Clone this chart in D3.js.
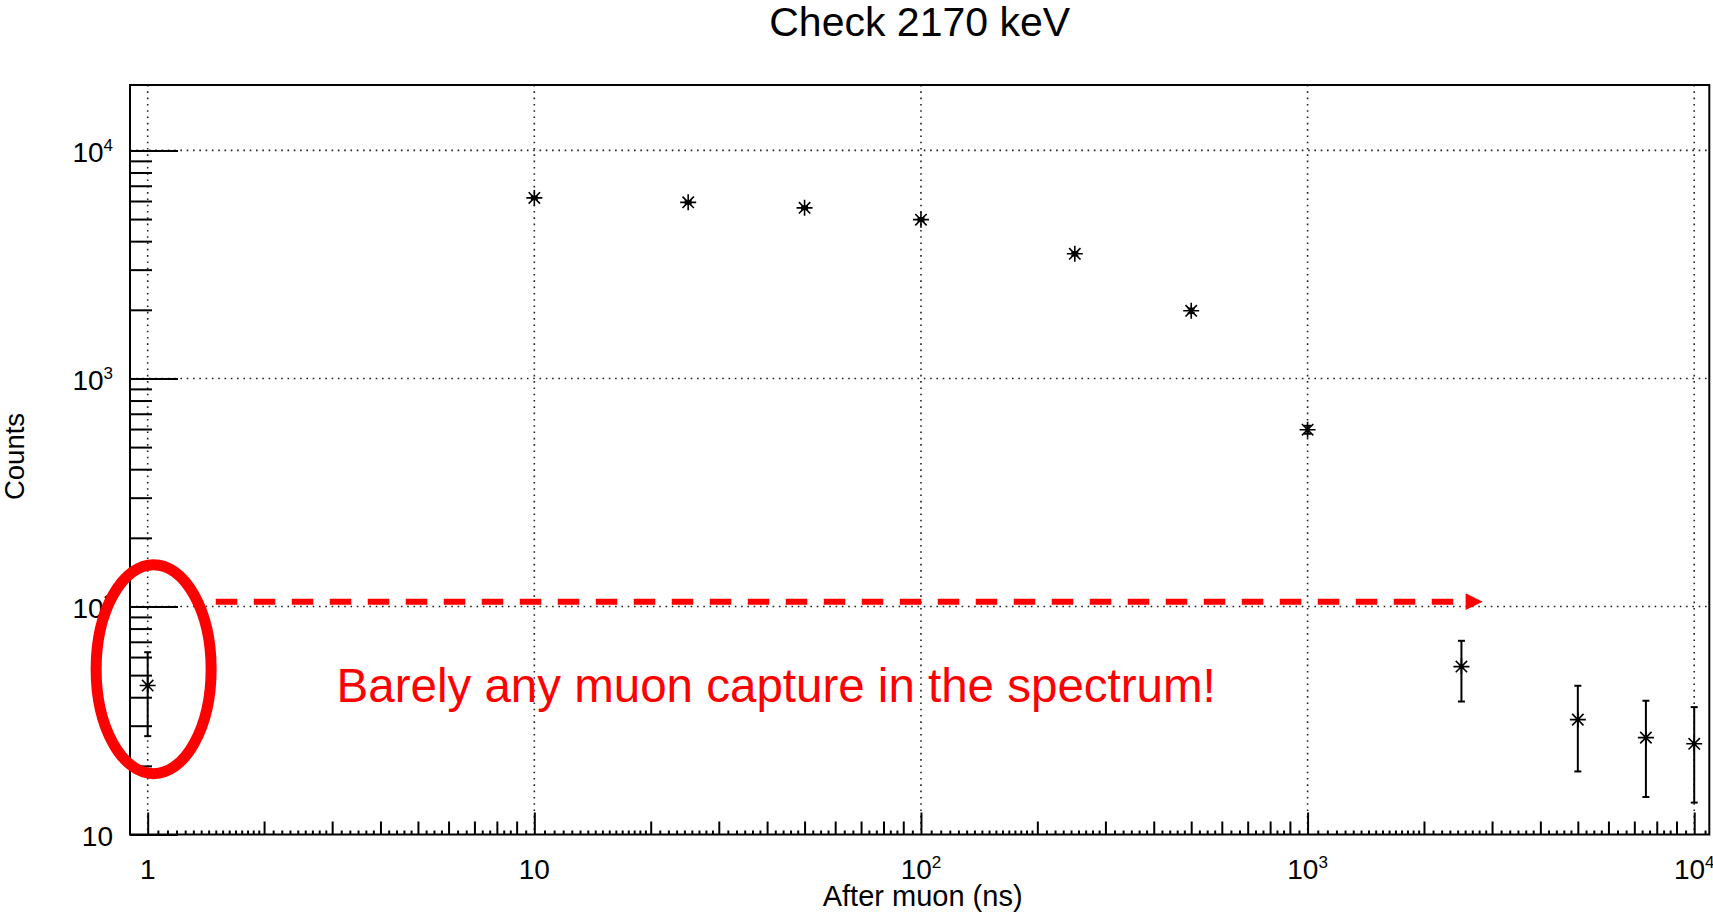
<!DOCTYPE html>
<html>
<head>
<meta charset="utf-8">
<script src="https://cdn.jsdelivr.net/npm/d3@7"></script>
<style>
    body { margin: 0; background: #fff; }
    svg text { font-family: "Liberation Sans", Arial, sans-serif; }
</style>
</head>
<body>
<div id="chart"></div>
<script>
// values
const afterMuon = [1, 10, 25, 50, 100, 250, 500, 1000, 2500, 5000, 7500, 10000];
const counts = [45, 6190, 5920, 5600, 4970, 3520, 1980, 596, 54.5, 31.9, 26.6, 25.0];
const countErrors = [18, 79, 77, 75, 70, 59, 45, 24, 16.2, 13, 12, 11.2];

const xDecades = [1, 10, 100, 1000, 10000];
const xDecadeLabels = [["1", ""], ["10", ""], ["10", "2"], ["10", "3"], ["10", "4"]];
const yDecades = [10, 100, 1000, 10000];
const yDecadeLabels = [["10", ""], ["10", "2"], ["10", "3"], ["10", "4"]];

const titleText = "Check 2170 keV";
const xTitle = "After muon (ns)";
const yTitle = "Counts";
const noteText = "Barely any muon capture in the spectrum!";

const config = {
    width: 1713,
    height: 914,
    margin: { left: 130, right: 3.7, top: 85, bottom: 79.5 },
    xDomain: [0.9, 10940],
    yDomain: [10, 19360]
};

class RootPlot {

    constructor(selectElement, config) {
        this.config = config;
        this.width = config.width - config.margin.left - config.margin.right;
        this.height = config.height - config.margin.top - config.margin.bottom;

        this.svg = d3.select(selectElement).append("svg")
            .attr("width", config.width)
            .attr("height", config.height);

        this.mainChart = this.svg.append("g")
            .attr("transform", "translate(" + config.margin.left + "," + config.margin.top + ")");

        this.x = d3.scaleLog().domain(config.xDomain).range([0, this.width]);
        this.y = d3.scaleLog().domain(config.yDomain).range([this.height, 0]);
    }

    draw() {
        this.createGrid();
        this.createXAxis();
        this.createYAxis();
        this.createFrame();
        this.createTitles();
        this.createPoints();
        this.createNote();
    }

    createGrid() {
        const grid = this.mainChart.append("g")
            .attr("stroke", "#222")
            .attr("stroke-width", 1.6)
            .attr("stroke-dasharray", "1.6,4.7");

        grid.selectAll(".vgrid")
            .data(xDecades)
            .enter()
            .append("line")
            .attr("x1", d => this.x(d))
            .attr("x2", d => this.x(d))
            .attr("y1", 0)
            .attr("y2", this.height);

        grid.selectAll(".hgrid")
            .data(yDecades.slice(1))
            .enter()
            .append("line")
            .attr("x1", 0)
            .attr("x2", this.width)
            .attr("y1", d => this.y(d))
            .attr("y2", d => this.y(d));
    }

    tickLayer(axis, values, size, transform) {
        const g = this.mainChart.append("g")
            .attr("transform", transform)
            .call(axis.tickValues(values).tickSize(size).tickSizeOuter(0).tickFormat(""));
        g.select(".domain").remove();
        g.selectAll(".tick line").attr("stroke", "#000").attr("stroke-width", 2);
        return g;
    }

    createXAxis() {
        const [lo, hi] = this.x.domain();
        const minor = [];
        const tiny = [];
        xDecades.slice(0, 4).forEach(d => {
            for (let k = 1; k <= 9; k++) {
                const a = k * d, b = (k + 1) * d;
                if (k > 1) minor.push(a);
                const n = Math.max(2, Math.round((this.x(b) - this.x(a)) / 7.5));
                for (let i = 1; i < n; i++) tiny.push(a + (b - a) * i / n);
            }
        });
        tiny.push(10000 + 10000 / 15);
        const inside = v => v >= lo && v <= hi;
        const bottom = "translate(0," + this.height + ")";

        this.tickLayer(d3.axisBottom(this.x), tiny.filter(inside), -4, bottom);
        this.tickLayer(d3.axisBottom(this.x), minor.filter(inside), -13, bottom);
        this.tickLayer(d3.axisBottom(this.x), xDecades, -22, bottom);

        const labels = this.mainChart.selectAll(".xlabel")
            .data(xDecades)
            .enter()
            .append("text")
            .attr("x", d => this.x(d))
            .attr("y", this.height + 44)
            .attr("text-anchor", "middle")
            .attr("font-size", 28);
        labels.append("tspan").text((d, i) => xDecadeLabels[i][0]);
        labels.append("tspan")
            .attr("font-size", 17)
            .attr("dy", -10.7)
            .text((d, i) => xDecadeLabels[i][1]);
    }

    createYAxis() {
        const [lo, hi] = this.y.domain();
        const minor = [];
        yDecades.forEach(d => {
            for (let k = 2; k <= 9; k++) minor.push(k * d);
        });

        this.tickLayer(d3.axisLeft(this.y), minor.filter(v => v >= lo && v <= hi), -22, null);
        this.tickLayer(d3.axisLeft(this.y), yDecades, -48, null);

        const labels = this.mainChart.selectAll(".ylabel")
            .data(yDecades)
            .enter()
            .append("text")
            .attr("x", -17)
            .attr("y", d => this.y(d) + 11.5)
            .attr("text-anchor", "end")
            .attr("font-size", 28);
        labels.append("tspan").text((d, i) => yDecadeLabels[i][0]);
        labels.append("tspan")
            .attr("font-size", 17)
            .attr("dy", -10.7)
            .text((d, i) => yDecadeLabels[i][1]);
    }

    createFrame() {
        this.mainChart.append("rect")
            .attr("x", 0)
            .attr("y", 0)
            .attr("width", this.width)
            .attr("height", this.height)
            .attr("fill", "none")
            .attr("stroke", "#000")
            .attr("stroke-width", 2);
    }

    createTitles() {
        this.svg.append("text")
            .attr("x", this.config.margin.left + this.width / 2)
            .attr("y", 36)
            .attr("text-anchor", "middle")
            .attr("font-size", 41)
            .text(titleText);

        this.svg.append("text")
            .attr("x", this.config.margin.left + this.width / 2 + 3)
            .attr("y", 906)
            .attr("text-anchor", "middle")
            .attr("font-size", 29)
            .text(xTitle);

        this.svg.append("text")
            .attr("transform", "rotate(-90)")
            .attr("x", -456.5)
            .attr("y", 23.5)
            .attr("text-anchor", "middle")
            .attr("font-size", 27.5)
            .text(yTitle);
    }

    createPoints() {
        const data = afterMuon.map((t, i) => ({ t: t, c: counts[i], e: countErrors[i] }));
        const points = this.mainChart.selectAll(".point")
            .data(data)
            .enter()
            .append("g")
            .attr("transform", d => "translate(" + this.x(d.t) + "," + this.y(d.c) + ")")
            .attr("stroke", "#000")
            .attr("stroke-width", 2);

        // error bars with end caps
        points.append("line")
            .attr("y1", d => this.y(d.c + d.e) - this.y(d.c))
            .attr("y2", d => this.y(d.c - d.e) - this.y(d.c));
        points.append("line")
            .attr("x1", -3.5).attr("x2", 3.5)
            .attr("y1", d => this.y(d.c + d.e) - this.y(d.c))
            .attr("y2", d => this.y(d.c + d.e) - this.y(d.c));
        points.append("line")
            .attr("x1", -3.5).attr("x2", 3.5)
            .attr("y1", d => this.y(d.c - d.e) - this.y(d.c))
            .attr("y2", d => this.y(d.c - d.e) - this.y(d.c));

        // asterisk marker
        const s = 8, t = 5.7;
        points.append("path")
            .attr("stroke-width", 1.6)
            .attr("d", `M${-s},0H${s}M0,${-s}V${s}M${-t},${-t}L${t},${t}M${-t},${t}L${t},${-t}`);
        points.append("circle")
            .attr("r", 2.2)
            .attr("stroke", "none")
            .attr("fill", "#000");
    }

    createNote() {
        const red = "#ff0000";
        // ellipse round the first bin
        this.mainChart.append("ellipse")
            .attr("cx", this.x(1.036))
            .attr("cy", this.y(53.1))
            .attr("rx", 57.5)
            .attr("ry", 104.5)
            .attr("fill", "none")
            .attr("stroke", red)
            .attr("stroke-width", 11);

        const ay = this.y(105);
        const tip = this.x(2836);
        this.mainChart.append("line")
            .attr("x1", this.x(1.5))
            .attr("x2", tip - 17)
            .attr("y1", ay)
            .attr("y2", ay)
            .attr("stroke", red)
            .attr("stroke-width", 6)
            .attr("stroke-dasharray", "21.5,16.5");
        this.mainChart.append("path")
            .attr("d", `M${tip},${ay}L${tip - 17},${ay - 8.3}L${tip - 17},${ay + 8.3}Z`)
            .attr("fill", red);

        this.mainChart.append("text")
            .attr("x", this.x(3.08))
            .attr("y", this.y(38.3))
            .attr("font-size", 47.5)
            .attr("fill", red)
            .text(noteText);
    }
}

new RootPlot("#chart", config).draw();
</script>
</body>
</html>
